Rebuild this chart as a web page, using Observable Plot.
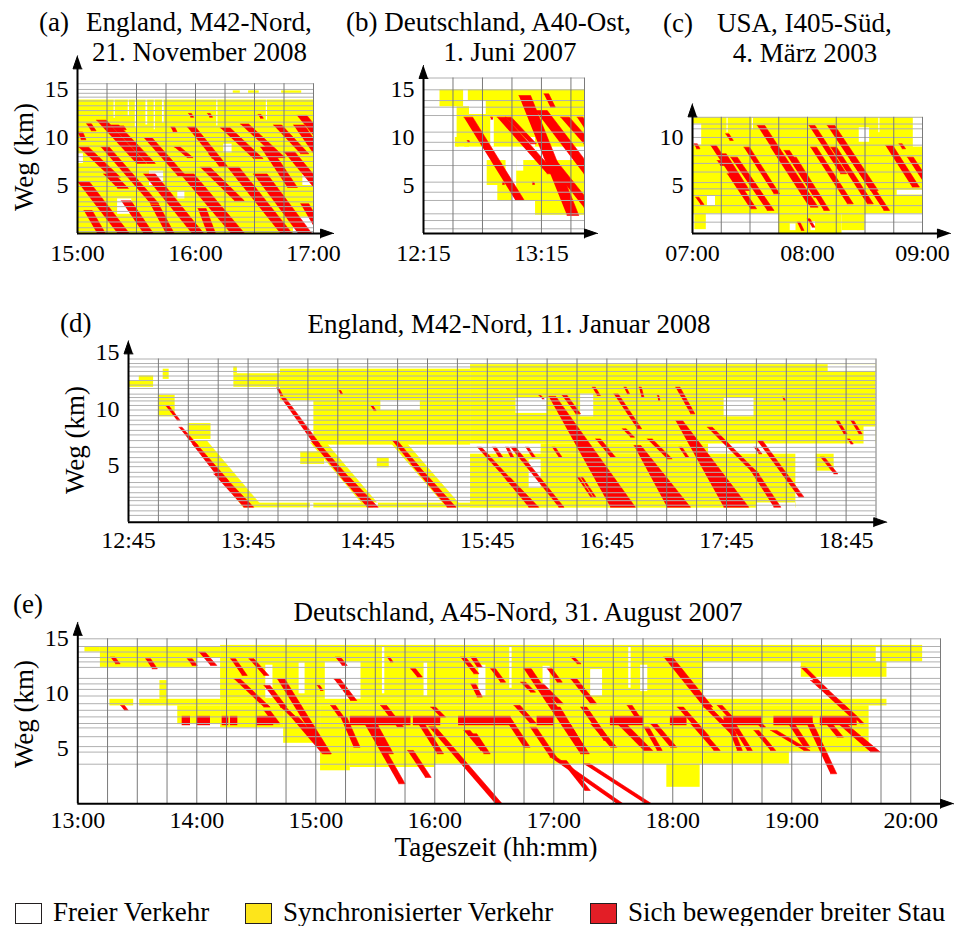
<!DOCTYPE html>
<html><head><meta charset="utf-8">
<script src="https://cdn.jsdelivr.net/npm/d3@7"></script>
<script src="https://cdn.jsdelivr.net/npm/@observablehq/plot@0.6"></script>
<style>
body{margin:0;background:#fff;}
#page{position:relative;width:954px;height:926px;overflow:hidden;background:#fff;font-family:"Liberation Serif","Times New Roman",serif;color:#000;}
#page svg text{font-family:"Liberation Serif","Times New Roman",serif !important;}
.t{position:absolute;white-space:nowrap;line-height:1;}
.sw{position:absolute;box-sizing:border-box;border:1.5px solid #231f20;}
</style></head><body><div id="page"></div>
<script>
// ---------- DATA (time in decimal hours, position in km) ----------
// jams: [tStart, kmStart, tEnd, kmEnd, widthStart(min), widthEnd(min)]
// rects: [t1, t2, km1, km2]

// Panel (a) England M42-Nord, 21.11.2008
const timeTicksA = [15, 16, 17];
const timeLabelsA = ["15:00", "16:00", "17:00"];
const kmTicksA = [5, 10, 15];
const gridTimesA = [15.25, 15.5, 15.75, 16, 16.25, 16.5, 16.75, 17];
const gridKmA = [15.6, 15.0, 14.6, 14.2, 13.8, 13.3, 12.8, 12.3, 11.6, 11.1, 10.5, 10.0, 9.6, 9.1, 8.5, 8.0, 7.5, 6.9, 6.4, 5.9, 5.4, 4.9, 4.4, 3.8, 3.3, 2.8, 2.3, 1.7, 1.2, 0.6, 0.2];
const syncA = [
  [15.0, 17.0, 0, 13.9], [16.32, 16.38, 14.6, 14.85], [16.45, 16.54, 14.6, 14.85], [16.73, 16.90, 14.6, 14.85]
];
const freeA = [
  [15.0, 15.05, 7.3, 8.3], [15.34, 15.46, 2.0, 3.6], [15.61, 15.73, 5.0, 6.5], [15.85, 15.91, 3.6, 4.4],
  [16.83, 17.0, 0, 1.7], [16.91, 17.0, 5.0, 6.1], [16.24, 16.31, 8.4, 9.3], [15.49, 15.505, 11.0, 13.9],
  [15.58, 15.595, 11.3, 13.9], [15.65, 15.66, 10.8, 13.9], [15.72, 15.735, 11.5, 13.9], [16.18, 16.19, 11.2, 13.9],
  [16.60, 16.61, 11.8, 13.9], [15.31, 15.32, 12.0, 13.9], [15.43, 15.44, 12.2, 13.9]
];
const jamsA = [
  [15.003, 10.56, 15.03, 9.76, 2.5, 2.5], [15.076, 11.42, 15.116, 10.7, 2.5, 2.5], [15.011, 8.99, 15.28, 5.87, 5, 5],
  [15.0, 5.4, 15.34, 0, 6, 6], [15.054, 2.4, 15.167, 0, 4.2, 4.2], [15.16, 11.8, 15.50, 7.3, 5, 5],
  [15.20, 8.99, 15.62, 3.1, 4.2, 4.2], [15.22, 6.2, 15.34, 4.7, 5.5, 5.5], [15.28, 11.3, 15.59, 7.3, 4.2, 4.2],
  [15.36, 11.2, 15.38, 10.8, 2, 2], [15.37, 3.4, 15.56, 0, 5, 5], [15.56, 10.0, 15.85, 6.0, 4.2, 4.2],
  [15.56, 6.2, 15.97, 0, 6, 6], [15.62, 3.0, 15.75, 0, 4.2, 4.2], [15.79, 11.1, 15.81, 10.6, 2, 2],
  [15.82, 9.0, 15.93, 7.9, 3, 3], [15.93, 11.1, 16.2, 7.0, 4.2, 4.2], [15.87, 6.2, 16.3, 0, 7, 7],
  [16.02, 2.6, 16.10, 0, 4.2, 4.2], [16.04, 6.9, 16.33, 3.4, 5, 5], [16.11, 8.3, 16.14, 7.8, 2, 2],
  [16.21, 11.0, 16.49, 7.8, 5, 5], [16.27, 6.9, 16.72, 0, 6, 6], [16.38, 11.4, 16.69, 7.9, 4.2, 4.2],
  [16.49, 6.2, 16.87, 0, 7, 7], [16.55, 9.0, 16.78, 4.8, 5, 5], [16.66, 11.3, 16.89, 8.3, 4.2, 4.2],
  [16.86, 12.3, 17.0, 10.2, 5, 5], [16.83, 11.3, 17.0, 8.3, 5.5, 5.5], [16.75, 8.5, 17.0, 4.8, 5.5, 5.5],
  [16.89, 3.1, 17.0, 0.8, 4.2, 4.2], [15.94, 12.5, 15.96, 12.1, 1.5, 1.5], [16.10, 12.5, 16.12, 12.1, 1.5, 1.5],
  [16.53, 12.4, 16.55, 12.0, 1.5, 1.5]
];

// Panel (b) Deutschland A40-Ost, 1.6.2007
const timeTicksB = [12.25, 13.25];
const timeLabelsB = ["12:15", "13:15"];
const kmTicksB = [5, 10, 15];
const gridTimesB = [12.5, 12.75, 13.0, 13.25, 13.5, 13.615];
const gridKmB = [16.2, 14.97, 13.85, 13.16, 12.29, 10.56, 9.5, 8.65, 7.08, 5.35, 4.3, 3.44, 2.05, 1.35, 0.49];
const syncB = [
  [12.39, 12.59, 13.2, 14.95], [12.63, 13.615, 13.85, 14.95], [12.535, 12.64, 9.0, 13.2], [12.60, 13.615, 9.0, 12.4],
  [12.78, 13.615, 12.4, 13.85], [12.52, 12.55, 9.0, 10.0], [12.79, 12.95, 5.0, 7.6], [12.88, 13.0, 3.4, 5.5],
  [13.04, 13.615, 3.4, 7.6], [13.2, 13.615, 1.9, 3.4]
];
const freeB = [
  [12.66, 12.78, 12.4, 13.85], [12.82, 12.85, 9.0, 12.0], [13.12, 13.2, 9.0, 10.0], [13.04, 13.1, 6.5, 7.6]
];
const jamsB = [
  [12.592, 12.12, 13.03, 3.44, 4.5, 4.5], [13.058, 14.37, 13.467, 1.88, 6, 6], [12.874, 12.12, 13.298, 6.22, 4.5, 4.5],
  [12.945, 12.12, 13.157, 9.34, 3, 3], [13.199, 12.81, 13.609, 6.22, 6, 6], [13.411, 12.12, 13.609, 9.34, 4.5, 4.5],
  [13.27, 14.55, 13.326, 13.16, 2.5, 2.5], [13.27, 7.95, 13.609, 2.74, 5, 5], [13.552, 12.12, 13.609, 11.08, 3, 3],
  [12.62, 9.69, 12.625, 9.5, 1, 1], [12.818, 12.12, 12.822, 11.9, 1, 1], [12.917, 5.35, 12.92, 5.1, 1, 1],
  [13.171, 5.35, 13.175, 5.1, 1, 1]
];

// Panel (c) USA I405-Süd, 4.3.2003
const timeTicksC = [7, 8, 9];
const timeLabelsC = ["07:00", "08:00", "09:00"];
const kmTicksC = [5, 10];
const gridTimesC = [7.25, 7.5, 7.75, 8, 8.25, 8.5, 8.75, 9];
const gridKmC = [12.1, 11.4, 10.9, 10.0, 9.2, 8.1, 7.3, 6.4, 5.3, 4.65, 3.96, 2.9, 2.05, 1.18];
const syncC = [
  [7.0, 9.0, 2.05, 12.1], [7.02, 7.12, 0.4, 2.05], [7.75, 8.3, 0, 2.05], [8.3, 8.5, 0.3, 2.05]
];
const freeC = [
  [7.0, 7.08, 9.2, 11.4], [7.13, 7.2, 2.9, 3.9], [8.92, 9.0, 9.0, 12.1], [8.78, 9.0, 4.0, 4.5],
  [7.85, 7.9, 0.3, 1.0], [8.03, 8.07, 0.3, 1.2], [8.45, 8.54, 9.5, 11.0], [7.3, 7.31, 10.5, 12.1],
  [7.52, 7.53, 10.8, 12.1], [8.62, 8.63, 10.5, 12.1]
];
const jamsC = [
  [7.012, 9.34, 7.035, 8.82, 1.8, 1.8], [7.157, 9.17, 7.359, 5.52, 3, 3], [7.214, 7.6, 7.243, 7.08, 1.8, 1.8],
  [7.243, 8.3, 7.446, 4.48, 3, 3], [7.287, 10.38, 7.325, 9.69, 1.8, 1.8], [7.301, 6.22, 7.504, 2.57, 3.2, 3.2],
  [7.33, 7.95, 7.649, 2.4, 3.6, 3.6], [7.446, 8.99, 7.707, 4.13, 3, 3], [7.562, 11.25, 8.026, 2.74, 4, 4],
  [7.678, 8.99, 7.997, 3.09, 3.2, 3.2], [7.794, 8.65, 8.055, 3.78, 3, 3], [7.852, 7.95, 8.142, 2.4, 3, 3],
  [8.012, 11.25, 8.287, 6.22, 3.2, 3.2], [8.026, 8.99, 8.345, 3.09, 3.2, 3.2], [8.171, 11.25, 8.548, 4.48, 4, 4],
  [8.2, 8.99, 8.519, 3.09, 3.2, 3.2], [8.374, 7.6, 8.664, 2.4, 3, 3], [8.678, 9.17, 8.91, 4.83, 3.8, 3.8],
  [8.794, 9.34, 8.823, 8.82, 1.8, 1.8], [8.867, 7.95, 9.0, 5.52, 3.2, 3.2], [7.026, 3.78, 7.07, 3.02, 1.8, 1.8],
  [7.91, 1.18, 7.945, 0.31, 1.5, 1.5], [7.997, 1.53, 8.04, 0.66, 1.5, 1.5]
];

// Panel (d) England M42-Nord, 11.1.2008
const timeTicksD = [12.75, 13.75, 14.75, 15.75, 16.75, 17.75, 18.75];
const timeLabelsD = ["12:45", "13:45", "14:45", "15:45", "16:45", "17:45", "18:45"];
const kmTicksD = [5, 10, 15];
const gridTimesD = [13, 13.25, 13.5, 13.75, 14, 14.25, 14.5, 14.75, 15, 15.25, 15.5, 15.75, 16, 16.25, 16.5, 16.75, 17, 17.25, 17.5, 17.75, 18, 18.25, 18.5, 18.75, 19];
const gridKmD = [14.4, 14.0, 13.7, 13.3, 12.9, 12.5, 12.1, 11.8, 11.3, 11.0, 10.7, 10.3, 9.9, 9.4, 9.0, 8.6, 8.1, 7.7, 7.2, 6.6, 6.2, 5.7, 5.3, 4.9, 4.4, 4.0, 3.5, 3.1, 2.6, 2.2, 1.9, 1.5, 1.0, 0.6];
const syncD = [
  [12.753, 12.96, 11.9, 12.5], [12.84, 12.96, 12.5, 12.9], [13.04, 13.09, 12.6, 13.5], [13.0, 13.14, 9.3, 11.2],
  [13.25, 13.44, 7.3, 8.7], [13.63, 13.66, 13.1, 13.7], [13.631, 14.02, 11.9, 13.1], [14.02, 15.61, 10.7, 13.5],
  [14.3, 15.61, 6.8, 10.7], [14.19, 14.39, 5.1, 6.2], [14.83, 14.93, 4.8, 5.7], [13.714, 18.33, 1.26, 1.68],
  [15.61, 19.0, 10.7, 13.9], [15.61, 19.0, 6.9, 10.7], [15.61, 18.33, 1.26, 6.0], [16.2, 17.6, 6.0, 6.9],
  [18.5, 18.65, 4.5, 6.0]
];
const syncBandsD = [
  [13.27, 7.2, 13.70, 1.4, 8, 10], [14.27, 7.0, 14.72, 1.4, 8, 8], [14.94, 7.0, 15.40, 1.4, 8, 8]
];
const freeD = [
  [14.27, 14.30, 1.2, 1.7], [14.80, 14.84, 1.2, 1.7], [15.99, 16.25, 9.6, 11.0], [16.53, 16.64, 9.3, 11.3],
  [17.73, 17.98, 9.3, 11.0], [16.10, 16.20, 3.0, 5.5], [18.0, 18.33, 1.2, 1.7], [18.9, 19.0, 6.6, 8.4],
  [18.6, 19.0, 13.3, 13.9], [14.86, 15.19, 9.85, 10.74]
];
const jamsD = [
  [13.059, 10.29, 13.157, 8.97, 1.6, 1.6], [13.171, 8.38, 13.296, 6.76, 1.6, 2.2], [13.282, 6.91, 13.519, 3.68, 2.2, 4],
  [13.463, 4.26, 13.714, 1.32, 4, 5], [13.987, 11.85, 14.021, 11.18, 1.2, 1.2], [14.021, 11.03, 14.3, 6.91, 2.2, 3],
  [14.272, 7.21, 14.55, 3.68, 3, 4], [14.523, 3.97, 14.746, 1.32, 4.5, 5.5], [14.509, 11.62, 14.523, 11.32, 1, 1],
  [14.773, 10.29, 14.801, 9.85, 1.2, 1.2], [14.955, 7.21, 15.136, 4.85, 2.5, 3], [15.108, 5.15, 15.414, 1.32, 3, 4.5],
  [15.665, 6.62, 15.916, 3.68, 2.2, 2.6], [15.888, 3.97, 16.097, 1.32, 3, 5], [15.791, 6.62, 15.846, 5.74, 2, 2],
  [15.902, 6.62, 15.944, 5.74, 1.6, 1.6], [15.944, 6.62, 16.348, 1.32, 2.6, 2.6], [16.069, 6.62, 16.125, 5.74, 1.6, 1.6],
  [16.181, 11.18, 16.21, 10.88, 1, 1], [16.264, 11.1, 16.78, 1.32, 3.5, 12.5], [16.376, 11.18, 16.488, 9.56, 2.5, 2.5],
  [16.292, 6.62, 16.348, 5.74, 1.6, 1.6], [16.501, 3.97, 16.613, 2.21, 1.1, 1.1], [16.53, 3.97, 16.64, 2.21, 1.1, 1.1],
  [16.627, 11.91, 16.669, 11.18, 1.6, 1.6], [16.655, 7.35, 16.78, 5.74, 2.5, 2.5], [16.808, 11.32, 17.004, 8.24, 2.2, 2.2],
  [16.892, 11.91, 16.92, 11.32, 1.2, 1.2], [16.878, 8.24, 16.948, 7.5, 2, 2], [16.976, 6.76, 17.254, 1.32, 3.5, 11.7],
  [17.018, 11.91, 17.04, 11.03, 1.2, 1.2], [17.087, 7.35, 17.254, 5.59, 2.5, 2.5], [17.171, 11.18, 17.18, 10.74, 0.8, 0.8],
  [17.324, 11.91, 17.449, 9.56, 2.2, 2.2], [17.324, 8.97, 17.728, 1.32, 3.5, 12.5], [17.352, 6.62, 17.408, 5.74, 1.6, 1.6],
  [17.589, 8.38, 17.979, 4.26, 2.6, 2.6], [17.951, 4.55, 18.146, 1.32, 3, 3.5], [17.979, 6.62, 18.02, 6.03, 1.6, 1.6],
  [18.007, 7.21, 18.355, 2.21, 2.6, 2.6], [18.216, 11.03, 18.23, 10.74, 0.8, 0.8], [18.536, 5.74, 18.648, 4.26, 2, 2],
  [18.662, 8.97, 18.731, 7.79, 1.6, 1.6], [18.787, 8.97, 18.857, 7.79, 1.6, 1.6], [18.76, 7.35, 18.79, 6.9, 1.2, 1.2]
];

// Panel (e) Deutschland A45-Nord, 31.8.2007
const timeTicksE = [13, 14, 15, 16, 17, 18, 19, 20];
const timeLabelsE = ["13:00", "14:00", "15:00", "16:00", "17:00", "18:00", "19:00", "20:00"];
const kmTicksE = [5, 10, 15];
const gridTimesE = [13.25, 13.5, 13.75, 14, 14.25, 14.5, 14.75, 15, 15.25, 15.5, 15.75, 16, 16.25, 16.5, 16.75, 17, 17.25, 17.5, 17.75, 18, 18.25, 18.5, 18.75, 19, 19.25, 19.5, 19.75, 20, 20.25];
const gridKmE = [15, 14.3, 13.8, 13.3, 12.9, 12.4, 11.4, 10.9, 10.4, 9.8, 9.1, 8.5, 7.9, 7.3, 6.9, 6.1, 5.2, 4.7, 3.6];
const syncE = [
  [13.06, 13.19, 13.8, 14.3], [13.19, 14.0, 12.4, 14.3], [14.0, 14.2, 13.3, 14.3], [14.2, 20.1, 12.9, 14.4],
  [13.27, 13.47, 8.9, 9.5], [13.52, 19.8, 8.9, 9.5], [13.69, 13.75, 9.5, 11.2], [14.2, 15.0, 9.5, 12.9],
  [15.0, 15.08, 9.5, 12.9], [15.38, 18.26, 9.5, 12.9], [19.08, 19.8, 11.5, 12.9], [13.84, 14.2, 7.2, 8.9],
  [14.2, 14.73, 6.9, 8.9], [14.73, 15.04, 5.5, 8.9], [15.04, 15.29, 3.0, 8.9], [15.29, 16.0, 3.3, 8.9],
  [16.0, 18.26, 3.6, 8.9], [17.95, 18.23, 1.5, 3.6], [18.26, 19.65, 4.7, 8.9], [18.26, 18.98, 3.6, 4.7]
];
const freeE = [
  [14.58, 14.64, 9.6, 12.6], [14.86, 14.91, 10.0, 12.8], [16.37, 16.43, 9.8, 12.6], [16.63, 16.65, 10.5, 14.2],
  [16.91, 16.97, 10.0, 12.5], [17.31, 17.41, 9.8, 12.2], [17.63, 17.65, 10.5, 14.2], [17.73, 17.79, 10.2, 12.6],
  [15.56, 15.58, 10.0, 14.2], [15.91, 15.94, 9.8, 12.8], [19.71, 19.75, 12.9, 14.2]
];
const jamBlocksE = [
  [13.877, 13.947, 7.1, 7.95], [14.003, 14.115, 7.1, 7.95], [14.213, 14.269, 7.1, 7.95], [14.283, 14.345, 7.1, 7.95],
  [14.507, 14.647, 7.1, 7.95], [15.29, 15.80, 7.1, 7.95], [15.82, 16.05, 7.1, 7.95], [16.2, 16.64, 7.1, 7.95],
  [16.86, 17.0, 7.1, 7.95], [17.476, 17.756, 7.1, 7.95], [17.98, 18.12, 7.1, 7.95], [18.43, 18.75, 7.1, 7.95],
  [18.85, 19.18, 7.1, 7.95], [19.24, 19.55, 7.1, 7.95]
];
const jamsE = [
  [13.275, 13.33, 13.317, 12.73, 2.3, 2.3], [13.569, 13.18, 13.625, 12.27, 2.6, 2.6], [13.919, 13.18, 13.961, 12.58, 2.6, 2.6],
  [14.017, 13.79, 14.115, 12.58, 3.2, 3.2], [13.359, 8.94, 13.392, 8.48, 2, 2], [14.283, 13.18, 14.381, 11.67, 2.6, 2.6],
  [14.437, 13.18, 14.563, 11.67, 2.6, 2.6], [14.311, 11.36, 14.563, 8.79, 3.2, 3.2], [14.563, 8.48, 14.647, 7.27, 3.2, 3.2],
  [14.563, 10.76, 14.703, 8.79, 3.2, 3.2], [14.675, 11.36, 15.067, 4.55, 3.8, 3.8], [14.787, 7.94, 15.053, 4.55, 3.8, 4.5],
  [14.703, 8.79, 14.787, 7.94, 2.6, 2.6], [15.011, 10.76, 15.039, 10.30, 1.4, 1.4], [15.123, 8.94, 15.193, 7.88, 2.6, 2.6],
  [15.165, 13.33, 15.221, 12.58, 2.6, 2.6], [15.151, 11.36, 15.291, 9.39, 3.2, 3.2], [15.207, 7.88, 15.319, 5.15, 3.2, 3.2],
  [15.375, 7.94, 15.697, 1.82, 3.2, 3.2], [15.431, 7.88, 15.599, 4.55, 3.2, 3.2], [15.543, 8.94, 15.683, 7.0, 3.2, 3.2],
  [15.599, 13.33, 15.627, 12.88, 1.4, 1.4], [15.796, 12.27, 15.852, 11.52, 2.6, 2.6], [15.824, 7.88, 16.02, 4.55, 3.2, 3.2],
  [15.77, 4.85, 15.92, 2.4, 3, 3], [15.964, 8.79, 16.048, 7.88, 2.6, 2.6], [16.216, 13.33, 16.328, 11.82, 2.6, 2.6],
  [16.244, 6.67, 16.384, 4.85, 3.2, 3.2], [15.95, 7.0, 16.51, 0, 3.4, 3.4], [16.30, 13.33, 16.356, 12.42, 2.6, 2.6],
  [16.30, 10.91, 16.356, 9.70, 2.6, 2.6], [16.30, 6.36, 16.412, 4.55, 3.2, 3.2], [16.468, 12.27, 16.552, 11.06, 2.6, 2.6],
  [16.58, 7.88, 16.748, 5.15, 3.2, 3.2], [16.664, 8.94, 16.804, 7.27, 3.2, 3.2], [16.748, 12.27, 17.224, 4.55, 3.8, 4.5],
  [16.72, 11.06, 16.804, 10.15, 2.6, 2.6], [16.86, 10.91, 17.028, 9.09, 3.2, 3.2], [16.944, 12.27, 17.028, 11.06, 2.6, 2.6],
  [17.0, 8.79, 17.168, 5.76, 3.2, 3.2], [16.80, 6.96, 16.97, 4.24, 3.2, 3.2], [16.97, 4.24, 17.53, 0, 3.2, 3.2],
  [17.14, 11.36, 17.308, 9.09, 3.2, 3.2], [17.084, 7.27, 17.224, 4.85, 3.2, 3.2], [17.14, 13.33, 17.196, 12.73, 2, 2],
  [17.224, 8.79, 17.42, 5.76, 3.2, 3.2], [17.308, 7.27, 17.476, 5.15, 3.2, 3.2], [17.06, 3.94, 17.26, 1.21, 2.8, 2.8],
  [17.476, 7.88, 17.756, 4.85, 4.5, 4.5], [17.25, 3.64, 17.77, 0, 3.2, 3.2], [17.616, 8.94, 17.70, 7.58, 2.6, 2.6],
  [17.756, 6.97, 17.868, 4.85, 2.6, 2.6], [17.812, 7.27, 17.98, 5.15, 3.2, 3.2], [17.924, 13.33, 18.261, 8.79, 4.5, 4.5],
  [18.037, 8.79, 18.261, 6.06, 3.2, 3.2], [18.149, 7.27, 18.345, 4.85, 3.2, 3.2], [18.261, 8.79, 18.485, 6.36, 3.2, 3.2],
  [18.373, 8.94, 18.513, 7.27, 2.6, 2.6], [18.429, 7.88, 18.541, 4.85, 2.6, 2.6], [18.485, 7.27, 18.625, 4.85, 2.6, 2.6],
  [18.653, 7.88, 18.737, 6.97, 2.6, 2.6], [18.681, 6.67, 18.821, 4.85, 2.6, 2.6], [18.821, 6.67, 19.101, 4.85, 3.2, 3.2],
  [18.933, 7.88, 19.101, 5.15, 3.2, 3.2], [19.073, 12.42, 19.269, 10.30, 2.6, 2.6], [19.157, 11.21, 19.493, 7.88, 3.8, 3.8],
  [19.101, 7.88, 19.325, 2.73, 3.2, 3.2], [19.241, 7.88, 19.381, 6.06, 3.2, 3.2], [19.325, 7.88, 19.661, 4.70, 3.8, 5],
  [19.521, 7.88, 19.577, 7.27, 2, 2]
];

const legendLabels = ["Freier Verkehr", "Synchronisierter Verkehr", "Sich bewegender breiter Stau"];
const legendColors = ["#ffffff", "#fde51b", "#e31e26"];

// ---------- RENDERING ----------
const page = document.getElementById("page");
const FONT = "Liberation Serif, Times New Roman, serif";
const YELLOW = "#ffff00", RED = "#ff0000";

function polys(list) {
  const out = [];
  list.forEach((j, i) => {
    const [a, ka, b, kb, wa, wb] = j;
    out.push({id: i, t: a, km: ka}, {id: i, t: a + wa / 60, km: ka}, {id: i, t: b + wb / 60, km: kb}, {id: i, t: b, km: kb});
  });
  return out;
}
const rectOpts = {x1: d => d[0], x2: d => d[1], y1: d => d[2], y2: d => d[3]};

function makePanel(p) {
  const [bx0, by0, bx1, by1] = p.box;
  const [t0, t1] = p.xDomain;
  const yTop = p.yDomain[1];
  const pxT = (p.px.right - p.px.left) / (t1 - t0);
  const pxK = (p.px.bottom - p.px.top) / yTop;
  const xHead = [{id: 0, t: p.arrowX, km: 0}, {id: 0, t: p.arrowX - 13 / pxT, km: 4.5 / pxK}, {id: 0, t: p.arrowX - 13 / pxT, km: -4.5 / pxK}];
  const yHead = [{id: 0, t: t0, km: p.arrowY}, {id: 0, t: t0 - 4.5 / pxT, km: p.arrowY - 13 / pxK}, {id: 0, t: t0 + 4.5 / pxT, km: p.arrowY - 13 / pxK}];
  const marks = [
    Plot.rect(p.sync, {...rectOpts, fill: YELLOW, clip: true}),
    Plot.line(polys(p.bands || []), {x: "t", y: "km", z: "id", fill: YELLOW, stroke: YELLOW, strokeWidth: 0.5, clip: true}),
    Plot.rect(p.free, {...rectOpts, fill: "#ffffff", clip: true}),
    Plot.line(polys(p.jams), {x: "t", y: "km", z: "id", fill: RED, stroke: RED, strokeWidth: 0.6, clip: true}),
    Plot.rect(p.blocks || [], {...rectOpts, fill: RED, clip: true}),
    Plot.ruleY(p.gridKm, {x1: () => t0, x2: () => t1, stroke: "#b0b0b0", strokeWidth: 1}),
    Plot.ruleX(p.gridTimes, {y1: () => 0, y2: () => p.gridTop, stroke: "#7a7a7a", strokeWidth: 1}),
    Plot.ruleY([0], {x1: () => t0, x2: () => p.arrowX - 6 / pxT, stroke: "black", strokeWidth: 2}),
    Plot.ruleX([t0], {y1: () => 0, y2: () => p.arrowY - 6 / pxK, stroke: "black", strokeWidth: 2}),
    Plot.line(xHead, {x: "t", y: "km", z: "id", fill: "black", stroke: "black", strokeWidth: 1}),
    Plot.line(yHead, {x: "t", y: "km", z: "id", fill: "black", stroke: "black", strokeWidth: 1}),
    Plot.text(p.ticksX, {x: d => d, y: () => 0, text: (d, i) => p.labelsX[i], dy: p.tickDy, fontSize: 24, fontFamily: FONT, fill: "black"}),
    Plot.text(p.ticksY, {x: () => t0, y: d => d, text: d => String(d), dx: -9, textAnchor: "end", fontSize: 24, fontFamily: FONT, fill: "black"})
  ];
  const svg = Plot.plot({
    width: bx1 - bx0, height: by1 - by0,
    marginLeft: p.px.left - bx0, marginRight: bx1 - p.px.right,
    marginTop: p.px.top - by0, marginBottom: by1 - p.px.bottom,
    x: {domain: p.xDomain, axis: null},
    y: {domain: p.yDomain, axis: null},
    style: {background: "transparent", overflow: "visible", fontFamily: FONT, fontSize: "24px", color: "black"},
    marks
  });
  svg.style.position = "absolute";
  svg.style.left = bx0 + "px";
  svg.style.top = by0 + "px";
  svg.style.fontFamily = FONT;
  svg.querySelectorAll("text").forEach(el => {
    el.style.fontFamily = FONT;
    el.setAttribute("font-family", FONT);
  });
  page.appendChild(svg);
}

makePanel({box: [0, 40, 345, 280], px: {left: 77, right: 313, top: 83.2, bottom: 233},
  xDomain: [15, 17], yDomain: [0, 15.6], gridTop: 15.6, arrowX: 17.17, arrowY: 18.5,
  ticksX: timeTicksA, labelsX: timeLabelsA, ticksY: kmTicksA, tickDy: 20,
  gridKm: gridKmA, gridTimes: gridTimesA, sync: syncA, free: freeA, jams: jamsA});
makePanel({box: [355, 40, 610, 280], px: {left: 423, right: 584, top: 77.5, bottom: 233},
  xDomain: [12.25, 13.615], yDomain: [0, 16.2], gridTop: 16.2, arrowX: 13.725, arrowY: 17.5,
  ticksX: timeTicksB, labelsX: timeLabelsB, ticksY: kmTicksB, tickDy: 20,
  gridKm: gridKmB, gridTimes: gridTimesB, sync: syncB, free: freeB, jams: jamsB});
makePanel({box: [620, 90, 954, 280], px: {left: 692, right: 922, top: 116.8, bottom: 233},
  xDomain: [7, 9], yDomain: [0, 12.1], gridTop: 12.1, arrowX: 9.243, arrowY: 13.5,
  ticksX: timeTicksC, labelsX: timeLabelsC, ticksY: kmTicksC, tickDy: 20,
  gridKm: gridKmC, gridTimes: gridTimesC, sync: syncC, free: freeC, jams: jamsC});
makePanel({box: [0, 330, 954, 570], px: {left: 128, right: 875.5, top: 358.5, bottom: 521.7},
  xDomain: [12.75, 19], yDomain: [0, 14.4], gridTop: 14.4, arrowX: 19.09, arrowY: 16.0,
  ticksX: timeTicksD, labelsX: timeLabelsD, ticksY: kmTicksD, tickDy: 18,
  gridKm: gridKmD, gridTimes: gridTimesD, sync: syncD, bands: syncBandsD, free: freeD, jams: jamsD});
makePanel({box: [0, 610, 954, 840], px: {left: 77.3, right: 940, top: 638.3, bottom: 803.3},
  xDomain: [13, 20.25], yDomain: [0, 15], gridTop: 15, arrowX: 20.36, arrowY: 16.5,
  ticksX: timeTicksE, labelsX: timeLabelsE, ticksY: kmTicksE, tickDy: 17,
  gridKm: gridKmE, gridTimes: gridTimesE, sync: syncE, free: freeE, jams: jamsE, blocks: jamBlocksE});

function label(str, x, baseline, size, anchor) {
  const d = document.createElement("div");
  d.className = "t";
  d.textContent = str;
  d.style.fontSize = size + "px";
  d.style.top = (baseline - 0.8375 * size) + "px";
  d.style.left = x + "px";
  if (anchor === "middle") d.style.transform = "translateX(-50%)";
  page.appendChild(d);
}
function vlabel(str, cx, cy, size) {
  const d = document.createElement("div");
  d.className = "t";
  d.textContent = str;
  d.style.fontSize = size + "px";
  d.style.left = cx + "px";
  d.style.top = cy + "px";
  d.style.transform = "translate(-50%, -50%) rotate(-90deg)";
  page.appendChild(d);
}
// titles
label("(a)", 39, 32, 27);
label("England, M42-Nord,", 86, 32, 27);
label("21. November 2008", 199.5, 62, 27, "middle");
label("(b) Deutschland, A40-Ost,", 346, 32, 27);
label("1. Juni 2007", 510, 62, 27, "middle");
label("(c)", 663, 33, 27);
label("USA, I405-Süd,", 717, 33, 27);
label("4. März 2003", 805, 63, 27, "middle");
label("(d)", 60, 333, 27);
label("England, M42-Nord, 11. Januar 2008", 509, 334, 27, "middle");
label("(e)", 13, 614, 27);
label("Deutschland, A45-Nord, 31. August 2007", 518, 622, 27, "middle");
label("Tageszeit (hh:mm)", 496, 857, 27, "middle");
vlabel("Weg (km)", 24, 157, 27);
vlabel("Weg (km)", 75, 440, 27);
vlabel("Weg (km)", 24, 714, 27);

// legend
const legendX = [15, 245, 590];
legendLabels.forEach((s, i) => {
  const b = document.createElement("div");
  b.className = "sw";
  b.style.left = legendX[i] + "px";
  b.style.top = "903px";
  b.style.width = "27px";
  b.style.height = "21px";
  b.style.background = legendColors[i];
  page.appendChild(b);
  label(s, legendX[i] + 38, 922, 27);
});
</script></body></html>
